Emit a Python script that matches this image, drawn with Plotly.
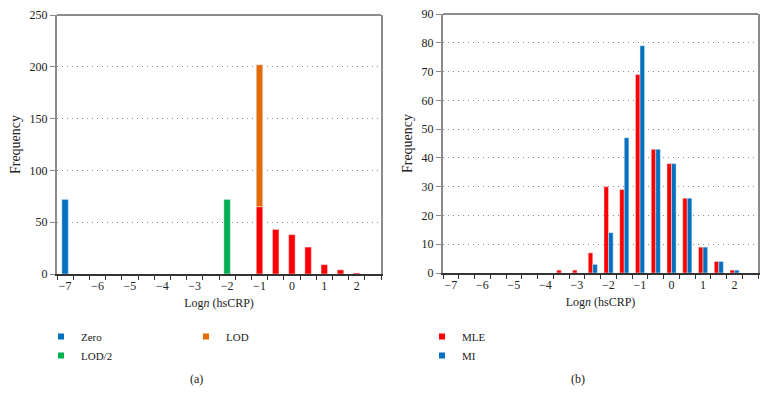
import plotly.graph_objects as go

# ---- data ----
x_obs = [-1, -0.5, 0, 0.5, 1, 1.5, 2]
observed = [65, 43, 38, 26, 9, 4, 1]          # red (observed) bars, panel (a)
x_zero = [-7]
zero = [72]
x_lod2 = [-2]
lod2 = [72]
x_lod = [-1]
lod = [137]                                    # sits on top of observed at -1 (total 202)

x_b = [-3.5, -3, -2.5, -2, -1.5, -1, -0.5, 0, 0.5, 1, 1.5, 2]
mle = [1, 1, 7, 30, 29, 69, 43, 38, 26, 9, 4, 1]
mi = [0, 0, 3, 14, 47, 79, 43, 38, 26, 9, 4, 1]

xtick_vals = [-7, -6, -5, -4, -3, -2, -1, 0, 1, 2]
xtick_text = ["\u22127", "\u22126", "\u22125", "\u22124", "\u22123", "\u22122", "\u22121", "0", "1", "2"]

BLUE = "#0070C0"
RED = "#FF0000"
GREEN = "#00B050"
ORANGE = "#E46C0A"
FONT = "Liberation Serif"
TXT = "#222222"

fig = go.Figure()

BW_A = 0.2
# panel (a)
fig.add_trace(go.Bar(x=x_zero, y=zero, marker_color=BLUE, showlegend=False, xaxis="x", yaxis="y",
                     width=BW_A, offset=-BW_A / 2))
fig.add_trace(go.Bar(x=x_lod2, y=lod2, marker_color=GREEN, showlegend=False, xaxis="x", yaxis="y",
                     width=BW_A, offset=-BW_A / 2))
fig.add_trace(go.Bar(x=x_obs, y=observed, marker_color=RED, showlegend=False, xaxis="x", yaxis="y",
                     width=BW_A, offset=-BW_A / 2))
fig.add_trace(go.Bar(x=x_lod, y=lod, base=[observed[x_obs.index(v)] for v in x_lod],
                     marker_color=ORANGE, showlegend=False, xaxis="x", yaxis="y",
                     width=BW_A, offset=-BW_A / 2))

# panel (b)
fig.add_trace(go.Bar(x=x_b, y=mle, marker_color=RED, showlegend=False, xaxis="x2", yaxis="y2",
                     width=0.145, offset=-0.14))
fig.add_trace(go.Bar(x=x_b, y=mi, marker_color=BLUE, showlegend=False, xaxis="x2", yaxis="y2",
                     width=0.145, offset=0.005))

# legend proxies (small square swatches)
def proxy(name, color, legend):
    fig.add_trace(go.Scatter(x=[None], y=[None], mode="markers", name=name,
                             marker=dict(symbol="square", size=6, color=color),
                             legend=legend, xaxis="x", yaxis="y"))

proxy("Zero", BLUE, "legend")
proxy("LOD/2", GREEN, "legend")
proxy("LOD", ORANGE, "legend2")
proxy("MLE", RED, "legend3")
proxy("MI", BLUE, "legend3")

W, H = 767, 393
def px(v):
    return v / W
def py(v):
    return 1 - v / H

tickfont = dict(family=FONT, size=12, color=TXT)

def xaxis_cfg(domain, anchor):
    return dict(
        domain=domain, anchor=anchor, range=[-7.25, 2.75], automargin=False,
        tickmode="array", tickvals=xtick_vals, ticktext=xtick_text,
        ticks="", showgrid=False, zeroline=False,
        showline=True, linecolor="#333333", linewidth=1.5,
        tickfont=tickfont,
        minor=dict(tick0=-7.25, dtick=0.5, ticks="outside", ticklen=4, tickcolor="#333333", showgrid=False),
        title=dict(text="Log<i>n</i> (hsCRP)", font=dict(family=FONT, size=12, color=TXT), standoff=6),
        fixedrange=True,
    )

def yaxis_cfg(domain, anchor, rng, dtick):
    return dict(
        domain=domain, anchor=anchor, range=rng, dtick=dtick, automargin=False,
        ticks="outside", ticklen=5, tickcolor="#888888",
        showgrid=True, gridcolor="#8a8a8a", griddash="1px,4px", gridwidth=1,
        zeroline=False, showline=True, linecolor="#8c8c8c", linewidth=2, mirror=True,
        tickfont=tickfont,
        title=dict(text="Frequency", font=dict(family=FONT, size=14, color=TXT), standoff=6),
        fixedrange=True,
    )

legfont = dict(family=FONT, size=11, color=TXT)

fig.update_layout(
    width=W, height=H,
    margin=dict(l=0, r=0, t=0, b=0, autoexpand=False),
    paper_bgcolor="white", plot_bgcolor="white",
    barmode="overlay",
    font=dict(family=FONT, size=12, color=TXT),
    xaxis=xaxis_cfg([px(57), px(381)], "y"),
    yaxis=yaxis_cfg([py(274), py(15)], "x", [0, 250], 50),
    xaxis2=xaxis_cfg([px(443), px(758)], "y2"),
    yaxis2=yaxis_cfg([py(273), py(14)], "x2", [0, 90], 10),
    legend=dict(x=px(41), y=py(322), xanchor="left", yanchor="top", orientation="v",
                bgcolor="rgba(0,0,0,0)", font=legfont, tracegroupgap=0, itemwidth=30),
    legend2=dict(x=px(186), y=py(322), xanchor="left", yanchor="top", orientation="v",
                 bgcolor="rgba(0,0,0,0)", font=legfont, itemwidth=30),
    legend3=dict(x=px(422), y=py(322), xanchor="left", yanchor="top", orientation="v",
                 bgcolor="rgba(0,0,0,0)", font=legfont, itemwidth=30),
    annotations=[
        dict(text="(a)", x=px(196), y=py(379), xref="paper", yref="paper", showarrow=False,
             xanchor="center", yanchor="middle", font=dict(family=FONT, size=12, color=TXT)),
        dict(text="(b)", x=px(578), y=py(379), xref="paper", yref="paper", showarrow=False,
             xanchor="center", yanchor="middle", font=dict(family=FONT, size=12, color=TXT)),
    ],
    shapes=[
        dict(type="line", xref="x domain", yref="y domain", x0=0, x1=1, y0=1, y1=1,
             line=dict(color="#8c8c8c", width=2)),
        dict(type="line", xref="x2 domain", yref="y2 domain", x0=0, x1=1, y0=1, y1=1,
             line=dict(color="#8c8c8c", width=2)),
    ],
)

fig.write_html("out.html", config={"displayModeBar": False},
               post_script="document.body.style.margin='0';")
